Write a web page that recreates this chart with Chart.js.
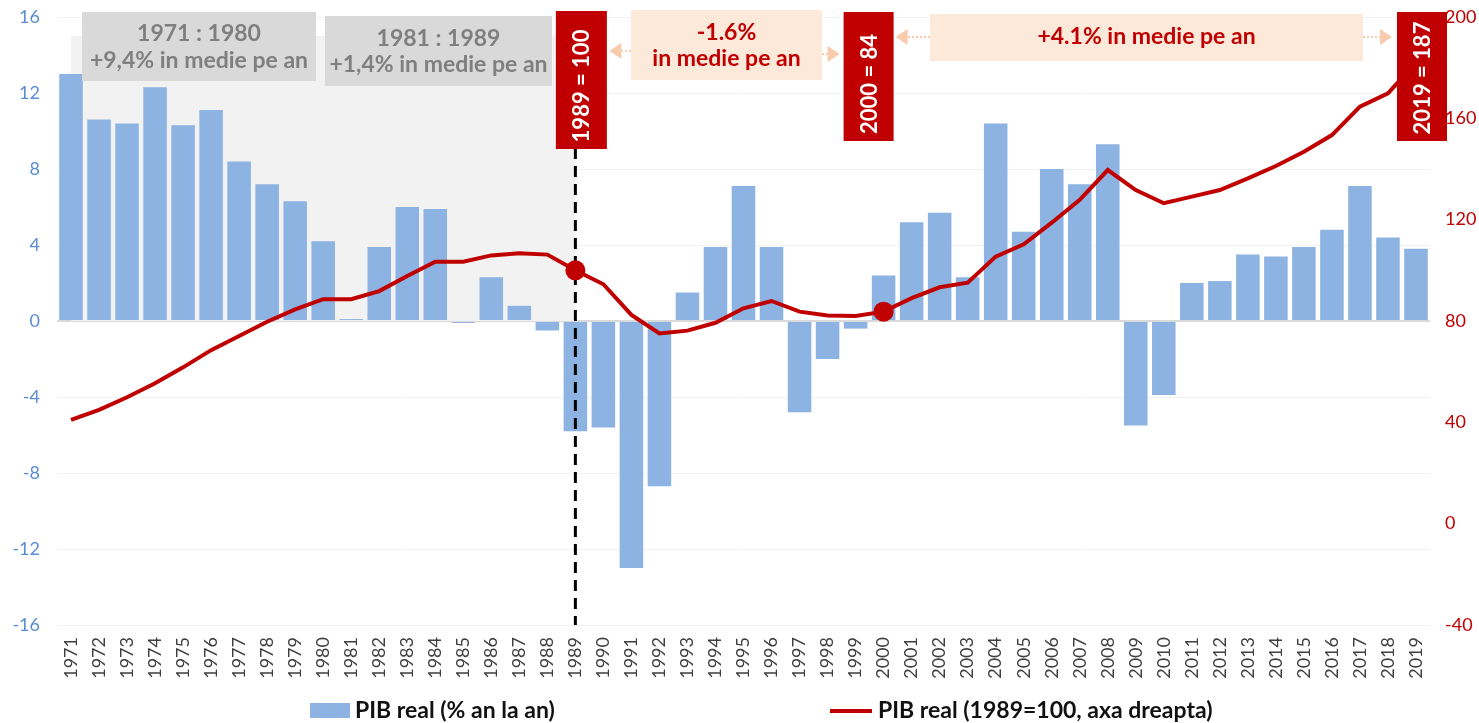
<!DOCTYPE html>
<html>
  <head>
    <title>PIB real Romania 1971-2019</title>
    <script src="https://cdn.jsdelivr.net/npm/chart.js"></script>
    <style>
      body {
        margin: 0;
        background: #ffffff;
      }

      .wrap {
        position: relative;
        width: 1479px;
        height: 723px;
      }
    </style>
  </head>
  <body>
    <div class="wrap">
      <canvas id="pibChart" width="1479" height="723"></canvas>
    </div>
    <script>
      const years = [
        "1971", "1972", "1973", "1974", "1975", "1976", "1977", "1978", "1979", "1980",
        "1981", "1982", "1983", "1984", "1985", "1986", "1987", "1988", "1989", "1990",
        "1991", "1992", "1993", "1994", "1995", "1996", "1997", "1998", "1999", "2000",
        "2001", "2002", "2003", "2004", "2005", "2006", "2007", "2008", "2009", "2010",
        "2011", "2012", "2013", "2014", "2015", "2016", "2017", "2018", "2019",
      ];
      // PIB real, % an la an (axa stanga)
      const growth = [
        13.0, 10.6, 10.4, 12.3, 10.3, 11.1, 8.4, 7.2, 6.3, 4.2,
        0.1, 3.9, 6.0, 5.9, -0.1, 2.3, 0.8, -0.5, -5.8, -5.6,
        -13.0, -8.7, 1.5, 3.9, 7.1, 3.9, -4.8, -2.0, -0.4, 2.4,
        5.2, 5.7, 2.3, 10.4, 4.7, 8.0, 7.2, 9.3, -5.5, -3.9,
        2.0, 2.1, 3.5, 3.4, 3.9, 4.8, 7.1, 4.4, 3.8,
      ];
      // PIB real, 1989 = 100 (axa dreapta)
      const index1989 = [
        41, 44.9, 49.9, 55.4, 61.7, 68.5, 74.1, 79.7, 84.6, 88.6,
        88.6, 91.8, 97.8, 103.4, 103.4, 105.9, 106.7, 106.2, 100, 94.5,
        82.4, 75.1, 76.2, 79.3, 85.0, 87.9, 83.7, 82.2, 82.0, 83.7,
        89.0, 93.3, 95.1, 105.4, 110.3, 118.8, 127.8, 139.6, 131.7, 126.5,
        129.1, 131.7, 136.3, 141.2, 146.8, 153.4, 164.6, 169.9, 182,
      ];
      const leftTicks = [-16, -12, -8, -4, 0, 4, 8, 12, 16];
      const rightTicks = [-40, 0, 40, 80, 120, 160, 200];
      const markedYears = ["1989", "2000"];

      const RED = "#c00000";
      const BLUE = "#8db3e2";
      const PEACH = "#fde9d9";
      const PEACH_DARK = "#f8cbad";
      const FONT = "Lato, 'Noto Sans', sans-serif";

      function xOf(chart, year) {
        return chart.scales.x.getPixelForValue(years.indexOf(year));
      }

      function drawArrow(ctx, x1, x2, y) {
        // dotted line from x1 to x2, head at x2
        const dir = x2 > x1 ? 1 : -1;
        ctx.save();
        ctx.strokeStyle = PEACH_DARK;
        ctx.fillStyle = PEACH_DARK;
        ctx.lineWidth = 2;
        ctx.setLineDash([2, 2]);
        ctx.beginPath();
        ctx.moveTo(x1, y);
        ctx.lineTo(x2 - dir * 10, y);
        ctx.stroke();
        ctx.setLineDash([]);
        ctx.beginPath();
        ctx.moveTo(x2, y);
        ctx.lineTo(x2 - dir * 12, y - 8);
        ctx.lineTo(x2 - dir * 12, y + 8);
        ctx.closePath();
        ctx.fill();
        ctx.restore();
      }

      function redTag(ctx, cx, top, bottom, w, text, textY) {
        ctx.save();
        ctx.fillStyle = RED;
        ctx.fillRect(cx - w / 2, top, w, bottom - top);
        ctx.translate(cx, textY);
        ctx.rotate(-Math.PI / 2);
        ctx.fillStyle = "#ffffff";
        ctx.font = "bold 22px " + FONT;
        ctx.textAlign = "center";
        ctx.textBaseline = "middle";
        ctx.fillText(text, 0, 1);
        ctx.restore();
      }

      function textBox(ctx, x1, y1, x2, y2, fill, color, lines) {
        ctx.save();
        ctx.fillStyle = fill;
        ctx.fillRect(x1, y1, x2 - x1, y2 - y1);
        ctx.fillStyle = color;
        ctx.font = "bold 23px " + FONT;
        ctx.textAlign = "center";
        ctx.textBaseline = "middle";
        lines.forEach(function (l) {
          ctx.fillText(l[0], (x1 + x2) / 2, l[1]);
        });
        ctx.restore();
      }

      function noVerticalPad(scale) {
        scale.paddingTop = 0;
        scale.paddingBottom = 0;
      }

      const decorPlugin = {
        id: "decor",
        beforeDatasetsDraw(chart) {
          const ctx = chart.ctx;
          const y = chart.scales.y;
          const x0 = xOf(chart, "1971");
          const x1 = xOf(chart, "1989");
          ctx.save();
          ctx.fillStyle = "#f2f2f2";
          ctx.fillRect(x0, 36, x1 - x0, y.getPixelForValue(0) - 36);
          ctx.restore();
        },
        afterDatasetDraw(chart, args) {
          if (args.index !== 1) return;
          const ctx = chart.ctx;
          const x = xOf(chart, "1989");
          ctx.save();
          ctx.strokeStyle = "#000000";
          ctx.lineWidth = 3;
          ctx.setLineDash([11, 7]);
          ctx.beginPath();
          ctx.moveTo(x, 148);
          ctx.lineTo(x, chart.chartArea.bottom);
          ctx.stroke();
          ctx.restore();
        },
        afterDraw(chart) {
          const ctx = chart.ctx;
          const x89 = xOf(chart, "1989");
          const x00 = xOf(chart, "2000");
          const x19 = xOf(chart, "2019");

          textBox(ctx, 82, 12, 316, 81, "#d9d9d9", "#7f7f7f", [
            ["1971 : 1980", 34],
            ["+9,4% in medie pe an", 61],
          ]);
          textBox(ctx, 325, 16, 552, 86, "#d9d9d9", "#7f7f7f", [
            ["1981 : 1989", 39],
            ["+1,4% in medie pe an", 65],
          ]);

          redTag(ctx, x89 + 6, 11, 149, 51, "1989 = 100", 86);
          redTag(ctx, x00 - 15, 12, 141, 50, "2000 = 84", 84);
          redTag(ctx, x19 + 6, 12, 141, 50, "2019 = 187", 78);

          textBox(ctx, 631, 10, 822, 80, PEACH, RED, [
            ["-1.6%", 33],
            ["in medie pe an", 59],
          ]);
          textBox(ctx, 930, 14, 1363, 61, PEACH, RED, [
            ["+4.1% in medie pe an", 37],
          ]);

          drawArrow(ctx, 631, x89 + 34, 51);
          drawArrow(ctx, 822, x00 - 44, 54);
          drawArrow(ctx, 930, x00 + 12, 37);
          drawArrow(ctx, 1363, x19 - 24, 37);

          // legend
          ctx.save();
          ctx.font = "bold 23px " + FONT;
          ctx.textBaseline = "middle";
          ctx.fillStyle = BLUE;
          ctx.fillRect(310, 703, 40, 15);
          ctx.fillStyle = "#111111";
          ctx.fillText(chart.data.datasets[1].label, 355, 711);
          ctx.strokeStyle = RED;
          ctx.lineWidth = 4;
          ctx.beginPath();
          ctx.moveTo(830, 711);
          ctx.lineTo(872, 711);
          ctx.stroke();
          ctx.fillText(chart.data.datasets[0].label, 878, 711);
          ctx.restore();
        },
      };

      const pointRadii = years.map(function (yr) {
        return markedYears.indexOf(yr) >= 0 ? 10 : 0;
      });

      const data = {
        labels: years,
        datasets: [
          {
            type: "line",
            label: "PIB real (1989=100, axa dreapta)",
            data: index1989,
            yAxisID: "y1",
            borderColor: RED,
            backgroundColor: RED,
            borderWidth: 4,
            pointRadius: pointRadii,
            pointHoverRadius: pointRadii,
            pointBackgroundColor: RED,
            pointBorderWidth: 0,
            tension: 0,
            order: 0,
          },
          {
            type: "bar",
            label: "PIB real (% an la an)",
            data: growth,
            yAxisID: "y",
            backgroundColor: BLUE,
            categoryPercentage: 1,
            barPercentage: 0.84,
            order: 1,
          },
        ],
      };

      const config = {
        data: data,
        plugins: [decorPlugin],
        options: {
          responsive: false,
          animation: false,
          layout: {
            autoPadding: false,
            padding: { top: 17, left: 0, right: 0, bottom: 0 },
          },
          plugins: {
            legend: { display: false },
            tooltip: { enabled: false },
          },
          scales: {
            x: {
              grid: { display: false, drawTicks: false },
              border: { display: false },
              afterFit(scale) {
                scale.height = 98;
              },
              ticks: {
                autoSkip: false,
                minRotation: 90,
                maxRotation: 90,
                padding: 12,
                color: "#404040",
                font: { family: FONT, size: 18 },
              },
            },
            y: {
              position: "left",
              min: -16,
              max: 16,
              afterFit(scale) {
                scale.width = 57;
                noVerticalPad(scale);
              },
              afterBuildTicks(scale) {
                scale.ticks = leftTicks.map(function (v) {
                  return { value: v };
                });
              },
              grid: {
                drawTicks: false,
                color(c) {
                  return c.tick && c.tick.value === 0 ? "#d9d9d9" : "#f2f2f2";
                },
                lineWidth(c) {
                  return c.tick && c.tick.value === 0 ? 2 : 1;
                },
              },
              border: { display: false },
              ticks: {
                padding: 17,
                color: "#5b8dd6",
                font: { family: FONT, size: 18 },
              },
            },
            y1: {
              position: "right",
              min: -40,
              max: 200,
              afterFit(scale) {
                scale.width = 49;
                noVerticalPad(scale);
              },
              afterBuildTicks(scale) {
                scale.ticks = rightTicks.map(function (v) {
                  return { value: v };
                });
              },
              grid: { display: false, drawTicks: false },
              border: { display: false },
              ticks: {
                padding: 15,
                color: RED,
                font: { family: FONT, size: 18 },
              },
            },
          },
        },
      };

      new Chart(document.getElementById("pibChart"), config);
    </script>
  </body>
</html>
